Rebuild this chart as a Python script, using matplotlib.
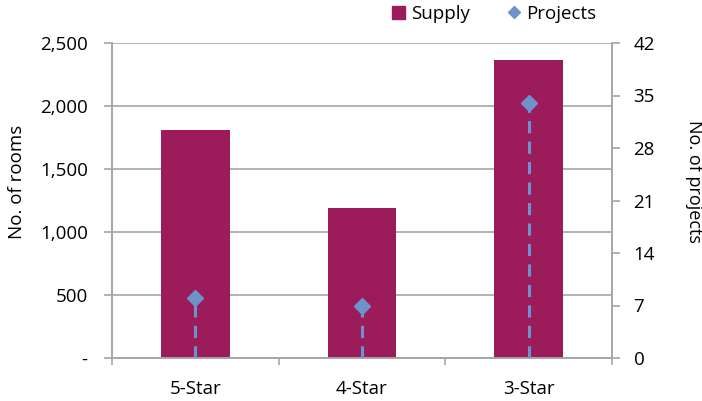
import numpy as np
import matplotlib.pyplot as plt
from matplotlib.lines import Line2D
from matplotlib.patches import Patch

# data
categories = ['5-Star', '4-Star', '3-Star']
supply = [1810, 1190, 2365]
projects = [8, 7, 34]

bar_col = '#9C1C5B'
pt_col = '#6E93CC'
grid_col = '#A6A6A6'

plt.rcParams['font.family'] = ['Open Sans', 'DejaVu Sans']
plt.rcParams['font.size'] = 13.5

fig = plt.figure(figsize=(7.02, 4.01), dpi=100)
ax = fig.add_axes([112/702, 1-358/401, 500/702, 315/401])
ax2 = ax.twinx()

x = np.arange(len(categories))
ax.bar(x, supply, width=0.41, color=bar_col, zorder=2)
ax.set_xlim(-0.5, 2.5)
ax.set_ylim(0, 2500)
ax.set_yticks(np.arange(0, 2501, 500))
ax.set_yticklabels(['-' if v == 0 else f'{v:,}' for v in range(0, 2501, 500)])
ax.yaxis.grid(True, color=grid_col, lw=1.2, zorder=0)
ax.set_axisbelow(True)
ax.set_xticks(x)
ax.set_xticklabels(categories)
ax.set_xticks([-0.5, 0.5, 1.5, 2.5], minor=True)
ax.tick_params(axis='x', which='major', length=0, pad=16)
ax.tick_params(axis='x', which='minor', length=5, color=grid_col, width=1.2)
ax.tick_params(axis='y', length=5.5, color=grid_col, width=1.2, pad=12)
ax.set_ylabel('No. of rooms')
ax.yaxis.set_label_coords(-0.172, 0.56)

ax2.set_ylim(0, 42)
ax2.set_yticks(np.arange(0, 43, 7))
ax2.tick_params(axis='y', length=5.5, color=grid_col, width=1.2, pad=10)
for i, p in enumerate(projects):
    ax2.plot([x[i], x[i]], [0, p], color=pt_col, lw=2.2, ls=(0, (4, 2.7)), zorder=3)
ax2.plot(x, projects, ls='none', marker='D', ms=8, color=pt_col, zorder=4)
ax2.set_ylabel('No. of projects', rotation=-90, va='bottom', fontsize=13)
ax2.yaxis.set_label_coords(1.146, 0.56)

for a in (ax, ax2):
    a.spines['top'].set_visible(False)
    for s in ('left', 'right', 'bottom'):
        a.spines[s].set_color(grid_col)
        a.spines[s].set_linewidth(1.2)

handles = [Patch(color=bar_col, label='Supply'),
           Line2D([], [], ls='none', marker='D', ms=6, color=pt_col, label='Projects')]
fig.legend(handles=handles, loc='center', bbox_to_anchor=(494/702, 1-14/401),
           ncol=2, frameon=False, handlelength=0.7, handletextpad=0.3,
           columnspacing=2.0, fontsize=13.5)

fig.savefig('out.png', dpi=100)
